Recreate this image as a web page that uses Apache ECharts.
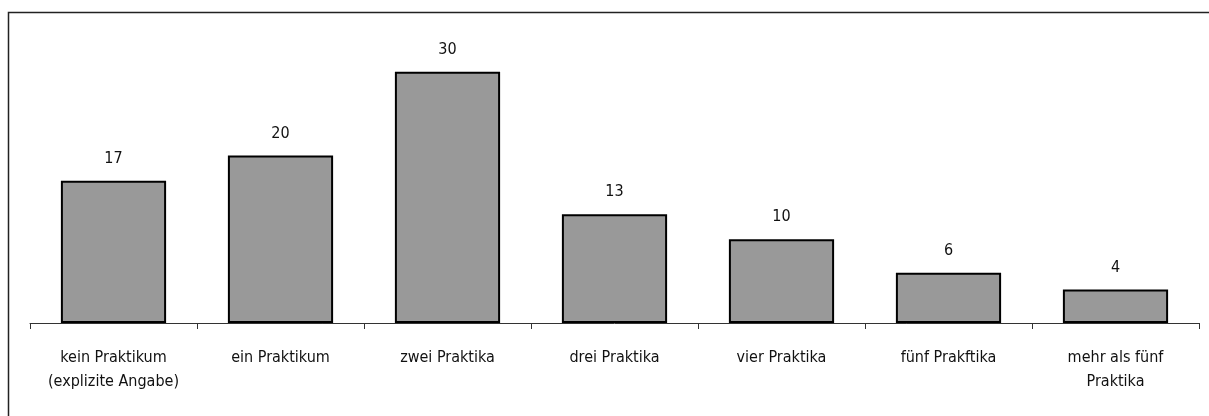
<!DOCTYPE html>
<html><head><meta charset="utf-8">
<script src="https://cdn.jsdelivr.net/npm/echarts@6/dist/echarts.min.js"></script>
<style>html,body{margin:0;padding:0;background:#fff}#c{width:1209px;height:416px}</style>
</head><body><div id="c"></div>
<script>
const categories = ['kein Praktikum\n(explizite Angabe)', 'ein Praktikum', 'zwei Praktika', 'drei Praktika', 'vier Praktika', 'fünf Prakftika', 'mehr als fünf\nPraktika'];
const values = [17, 20, 30, 13, 10, 6, 4];
const FONT = '"Liberation Sans Narrow", "Arial Narrow", "DejaVu Sans Condensed", "Liberation Sans", sans-serif';
const chart = echarts.init(document.getElementById('c'), null, {renderer: 'canvas'});
chart.setOption({
  animation: false,
  grid: {left: 30, right: 10, top: 30, bottom: 93, containLabel: false},
  graphic: [{type: 'rect', shape: {x: 8.5, y: 12.5, width: 1300, height: 500}, style: {fill: 'none', stroke: '#222', lineWidth: 1.5}, silent: true, z: -1}],
  xAxis: {
    type: 'category', data: categories,
    axisLine: {lineStyle: {color: '#333', width: 1}},
    axisTick: {show: true, interval: 0, length: 6, lineStyle: {color: '#333'}},
    axisLabel: {interval: 0, hideOverlap: false, color: '#111', fontFamily: FONT, fontSize: 16, margin: 23, lineHeight: 24}
  },
  yAxis: {type: 'value', min: 0, max: 35, show: false, splitLine: {show: false}},
  series: [{
    type: 'bar', data: values, barWidth: '63%',
    itemStyle: {color: '#999999', borderColor: '#000', borderWidth: 2},
    label: {show: true, position: 'top', distance: 14, color: '#111', fontFamily: FONT, fontSize: 16}
  }]
});
</script></body></html>
